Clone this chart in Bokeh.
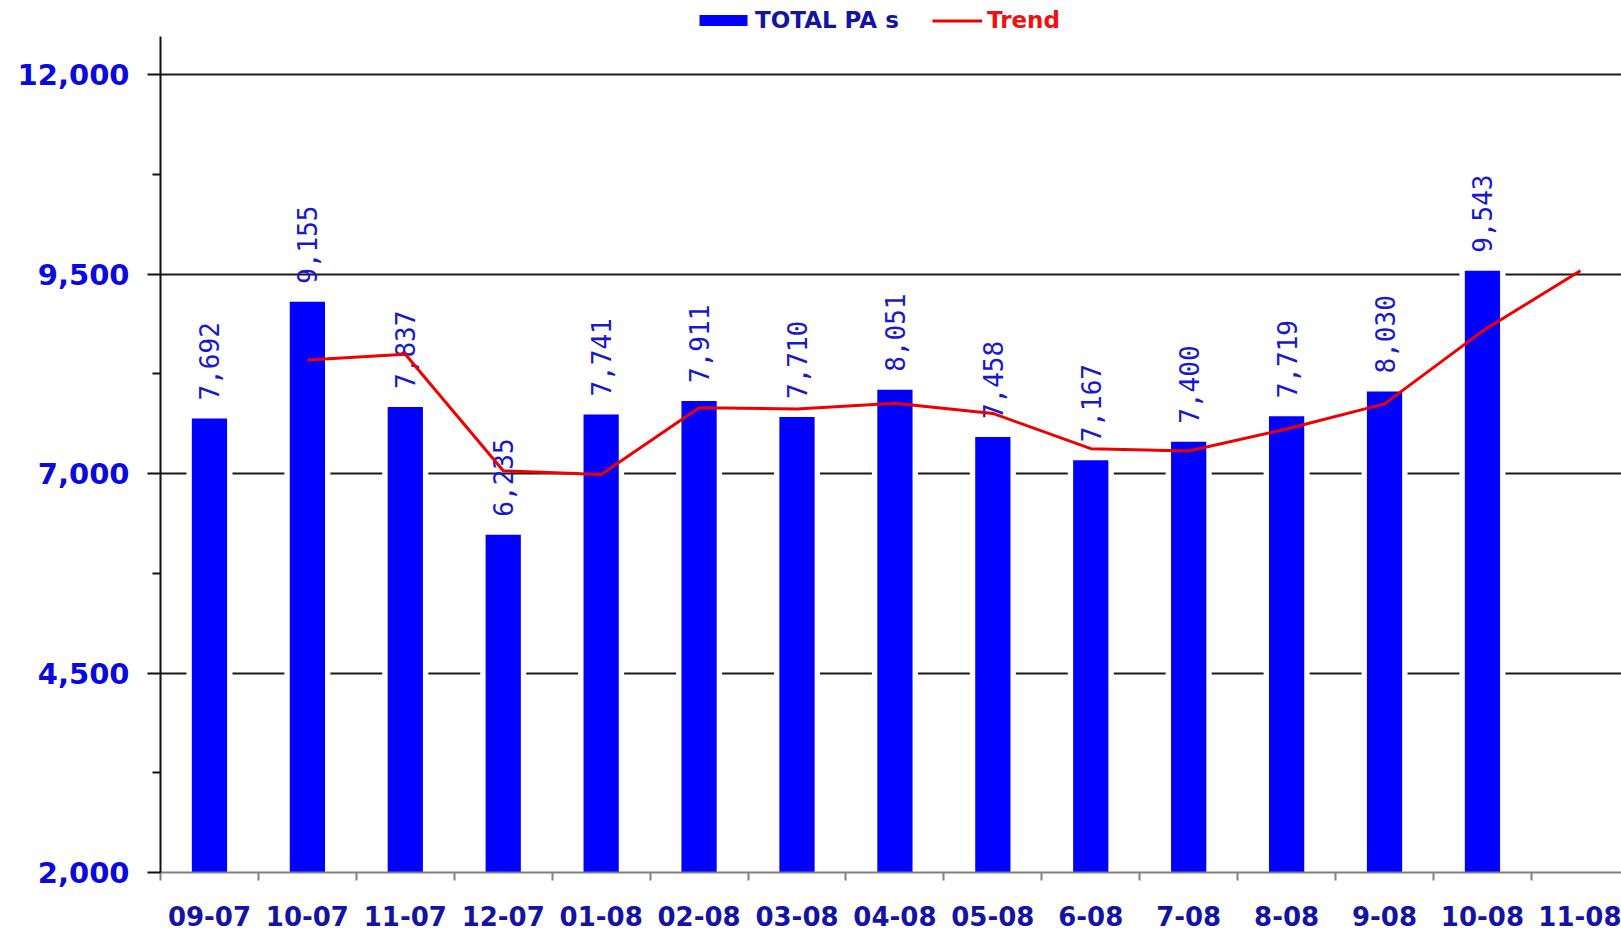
from bokeh.plotting import figure
from bokeh.layouts import column
from bokeh.models import (Range1d, FixedTicker, NumeralTickFormatter, Legend, LegendItem,
                          ColumnDataSource)
from bokeh.core.properties import value
from bokeh.embed import file_html
from bokeh.resources import INLINE
import math

# ---- data ----
months = ["09-07", "10-07", "11-07", "12-07", "01-08", "02-08", "03-08", "04-08",
          "05-08", "6-08", "7-08", "8-08", "9-08", "10-08", "11-08"]
total_pas = [7692, 9155, 7837, 6235, 7741, 7911, 7710, 8051, 7458, 7167, 7400, 7719, 8030, 9543]
total_labels = ["7,692", "9,155", "7,837", "6,235", "7,741", "7,911", "7,710", "8,051",
                "7,458", "7,167", "7,400", "7,719", "8,030", "9,543"]
trend_vals = [8424, 8496, 7036, 6988, 7826, 7811, 7881, 7755, 7313, 7284, 7560, 7875, 8787, 9543]
y_ticks = [2000, 4500, 7000, 9500, 12000]
y_minor = [3250, 5750, 8250, 10750]

xs = list(range(len(months)))
bar_x = xs[:len(total_pas)]
trend_x = xs[1:1 + len(trend_vals)]

BAR_COLOR = "#0000FF"
TREND_COLOR = "#EE0000"

p = figure(width=1621, height=900, output_backend="svg", toolbar_location=None,
           x_range=Range1d(-0.5, 14.42), y_range=Range1d(2000, 12480),
           min_border_left=160, min_border_right=0, min_border_top=0, min_border_bottom=64)
p.outline_line_color = None
p.background_fill_color = "white"
p.border_fill_color = "white"

# grid
p.xgrid.visible = False
p.ygrid.ticker = FixedTicker(ticks=[4500, 7000, 9500, 12000])
p.ygrid.grid_line_color = "#1a1a1a"
p.ygrid.grid_line_width = 2

# white halo behind bars (gaps in gridlines)
src = ColumnDataSource(dict(x=bar_x, top=total_pas, lab=total_labels))
tsrc = ColumnDataSource(dict(x=trend_x, y=trend_vals))
p.vbar(x="x", top="top", bottom=2000, width=0.47, source=src,
       fill_color="white", line_color=None)
p.vbar(x="x", top="top", bottom=2000, width=0.36, source=src,
       fill_color=BAR_COLOR, line_color=None)

p.text(x="x", y="top", text="lab", source=src, angle=math.pi / 2, y_offset=-18,
       text_align="left", text_baseline="middle", text_color="#1818CC",
       text_font=value("DejaVu Sans Mono"), text_font_size="26px")

p.line(x="x", y="y", source=tsrc, line_color=TREND_COLOR, line_width=3)

# y axis
ya = p.yaxis[0]
ya.ticker = FixedTicker(ticks=y_ticks, minor_ticks=y_minor)
ya.formatter = NumeralTickFormatter(format="0,0")
ya.axis_line_color = "#111111"
ya.axis_line_width = 2
ya.major_tick_line_color = "#111111"
ya.major_tick_line_width = 2
ya.major_tick_in = 0
ya.major_tick_out = 13
ya.minor_tick_line_color = "#111111"
ya.minor_tick_line_width = 2
ya.minor_tick_in = 0
ya.minor_tick_out = 8
ya.major_label_standoff = 18
ya.major_label_text_font = "DejaVu Sans"
ya.major_label_text_font_style = "bold"
ya.major_label_text_font_size = "29px"
ya.major_label_text_color = "#0A0ADD"

# x axis
xa = p.xaxis[0]
xa.ticker = FixedTicker(ticks=xs, minor_ticks=[i - 0.5 for i in xs] + [len(xs) - 0.5])
xa.major_label_overrides = {i: m for i, m in enumerate(months)}
xa.axis_line_color = "#808080"
xa.axis_line_width = 2
xa.major_tick_line_color = None
xa.major_tick_out = 0
xa.major_tick_in = 0
xa.minor_tick_line_color = "#808080"
xa.minor_tick_line_width = 2
xa.minor_tick_in = 0
xa.minor_tick_out = 8
xa.major_label_standoff = 25
xa.major_label_text_font = "DejaVu Sans"
xa.major_label_text_font_style = "bold"
xa.major_label_text_font_size = "26px"
xa.major_label_text_color = "#1414A0"

# ---- legend strip on top (same data, drawn out of its view range) ----
lf = figure(width=1621, height=36, output_backend="svg", toolbar_location=None,
            x_range=Range1d(-100, -99), y_range=Range1d(-100, -99),
            min_border=0)
lf.axis.visible = False
lf.grid.visible = False
lf.outline_line_color = None
lf.border_fill_color = "white"
lf.background_fill_color = "white"
leg_bar = lf.vbar(x="x", top="top", bottom=2000, width=0.36, source=src,
                  fill_color=BAR_COLOR, line_color=None)
leg_line = lf.line(x="x", y="y", source=tsrc, line_color=TREND_COLOR, line_width=3)


def mk_legend(label, rend, color, loc, gw, gh, standoff):
    lg = Legend(items=[LegendItem(label=label, renderers=[rend])], location=loc,
                orientation="horizontal", padding=0, margin=0, spacing=0,
                glyph_width=gw, glyph_height=gh, label_standoff=standoff,
                label_text_font="DejaVu Sans", label_text_font_style="bold",
                label_text_font_size="23px", label_text_color=color,
                border_line_alpha=0, background_fill_alpha=0, label_height=24)
    lf.add_layout(lg, "center")
    return lg


# frames of the two figures are aligned (legend frame starts at x=160)
mk_legend("TOTAL PA s", leg_bar, "#1414A0", (533, 3), 60, 14, 2)
mk_legend("Trend", leg_line, "#EE1111", (772, 3), 50, 11, 5)

layout = column(lf, p, spacing=0)
open("out.html", "w").write(file_html(layout, INLINE))
